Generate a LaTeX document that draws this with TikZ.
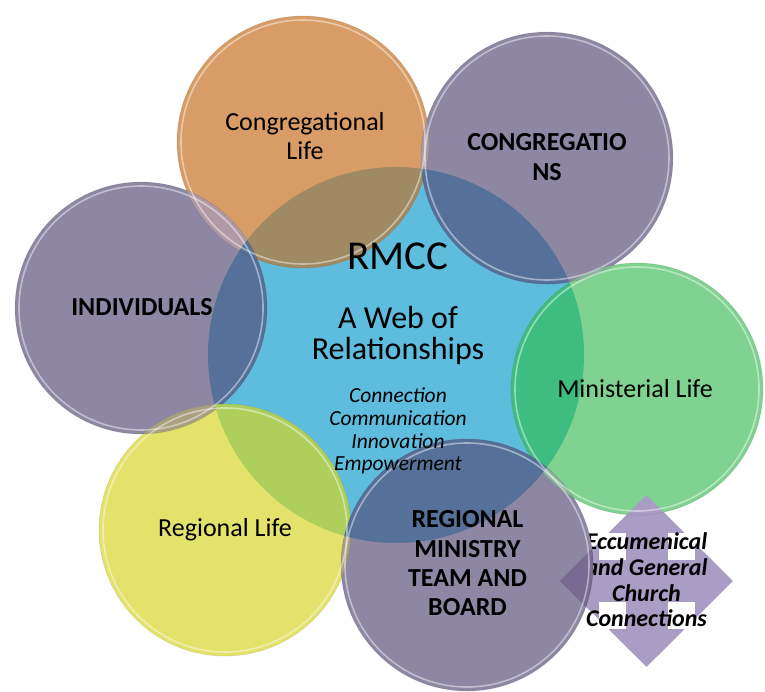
\documentclass[tikz,border=0pt]{standalone}
\usepackage{fontspec}
\setmainfont{Carlito}
\usetikzlibrary{shapes.geometric}

\definecolor{webblue}{HTML}{5EBCDD}
\definecolor{peach}{HTML}{D89D67}
\definecolor{grape}{HTML}{8E87A3}
\definecolor{mint}{HTML}{7FD28F}
\definecolor{lemon}{HTML}{E3E36B}
\definecolor{lilac}{HTML}{A99CC5}
\definecolor{peachblue}{HTML}{A08A63}
\definecolor{grapeblue}{HTML}{55719A}
\definecolor{mintblue}{HTML}{3FBC80}
\definecolor{lemonblue}{HTML}{AECF5B}
\definecolor{peachgrape}{HTML}{B09AA5}
\definecolor{lemongrape}{HTML}{A9A07F}
\definecolor{mintgrape}{HTML}{88B49B}
\definecolor{lilacgrape}{HTML}{786A92}

\newcommand{\rsmall}{126pt}
\newcommand{\rbig}{188pt}

\begin{document}
\begin{tikzpicture}[x=1pt, y=-1pt,
    bubble/.style={font=\fontsize{26}{29.3}\selectfont, align=center, inner sep=0pt},
    caps/.style={bubble, font=\fontsize{26}{29.3}\selectfont\bfseries},
    headline/.style={inner sep=0pt, anchor=base, font=\fontsize{32}{32}\selectfont},
    rim/.style={draw=white, draw opacity=0.45, line width=1.6pt},
  ]
  \useasboundingbox (0,0) rectangle (765,691);

  % centres of the bubbles
  \coordinate (web) at (396,355);
  \coordinate (cong) at (303,142);
  \coordinate (congs) at (547,158);
  \coordinate (indiv) at (141,308);
  \coordinate (mini) at (637,389);
  \coordinate (region) at (225,530);
  \coordinate (board) at (467,565);

  \fill[webblue] (web) circle (\rbig);
  \fill[peach] (cong) circle (\rsmall);
  \fill[grape] (congs) circle (\rsmall);
  \fill[grape] (indiv) circle (\rsmall);
  \fill[mint] (mini) circle (\rsmall);

  % the four way diamond
  \node[diamond, fill=lilac, minimum width=173pt, minimum height=172pt, inner sep=0pt] (cross) at (646.5,581) {};
  \foreach \dx in {-34.5,34.5}
    \foreach \dy in {-34.5,34.5}
      \fill[white, shift={(cross)}] (\dx-13.5,\dy-13.5) rectangle ++(27,27);
  \node[inner sep=0pt, align=center, font=\fontsize{24}{25.7}\selectfont\bfseries\itshape] (crosstext) at (646.5,580)
    {Eccumenical\\and General\\Church\\Connections};

  \fill[lemon] (region) circle (\rsmall);
  \fill[grape] (board) circle (\rsmall);

  % where the bubbles meet
  \foreach \a/\b/\c in {cong/indiv/peachgrape, cong/congs/peachgrape, congs/mini/mintgrape,
      indiv/region/lemongrape, region/board/lemongrape, mini/board/mintgrape}
    {\begin{scope} \clip (\a) circle (\rsmall); \fill[\c] (\b) circle (\rsmall); \end{scope}}
  \foreach \a/\c in {cong/peachblue, congs/grapeblue, indiv/grapeblue, mini/mintblue,
      region/lemonblue, board/grapeblue}
    {\begin{scope} \clip (\a) circle (\rsmall); \fill[\c] (web) circle (\rbig); \end{scope}}
  \begin{scope}
    \clip (board) circle (\rsmall);
    \fill[lilacgrape] (cross.north) -- (cross.east) -- (cross.south) -- (cross.west) -- cycle;
  \end{scope}

  % glassy edges
  \foreach \a in {cong,congs,indiv,mini,region,board}
    {\draw[black, draw opacity=0.08, line width=0.8pt] (\a) circle (\rsmall);
     \draw[rim] (\a) circle (122pt);}

  % labels
  \node[headline, font=\fontsize{41}{41}\selectfont] (rmcc) at (398,269) {RMCC};
  \node[headline] (webof) at (398,328) {A Web of};
  \node[headline] (relations) at (398,359) {Relationships};
  \node[inner sep=0pt, align=center, font=\fontsize{21.5}{22.8}\selectfont\itshape] (values) at (398,431)
    {Connection\\Communication\\Innovation\\Empowerment};

  \node[bubble] (congl) at (305,136) {Congregational\\Life};
  \node[caps] (congsl) at (547,157) {CONGREGATIO\\NS};
  \node[caps] (indivl) at (142,307.5) {INDIVIDUALS};
  \node[bubble] (minil) at (635,389) {Ministerial Life};
  \node[bubble] (regionl) at (225,530) {Regional Life};
  \node[caps] (boardl) at (467.5,563.5) {REGIONAL\\MINISTRY\\TEAM AND\\BOARD};
\end{tikzpicture}
\end{document}
